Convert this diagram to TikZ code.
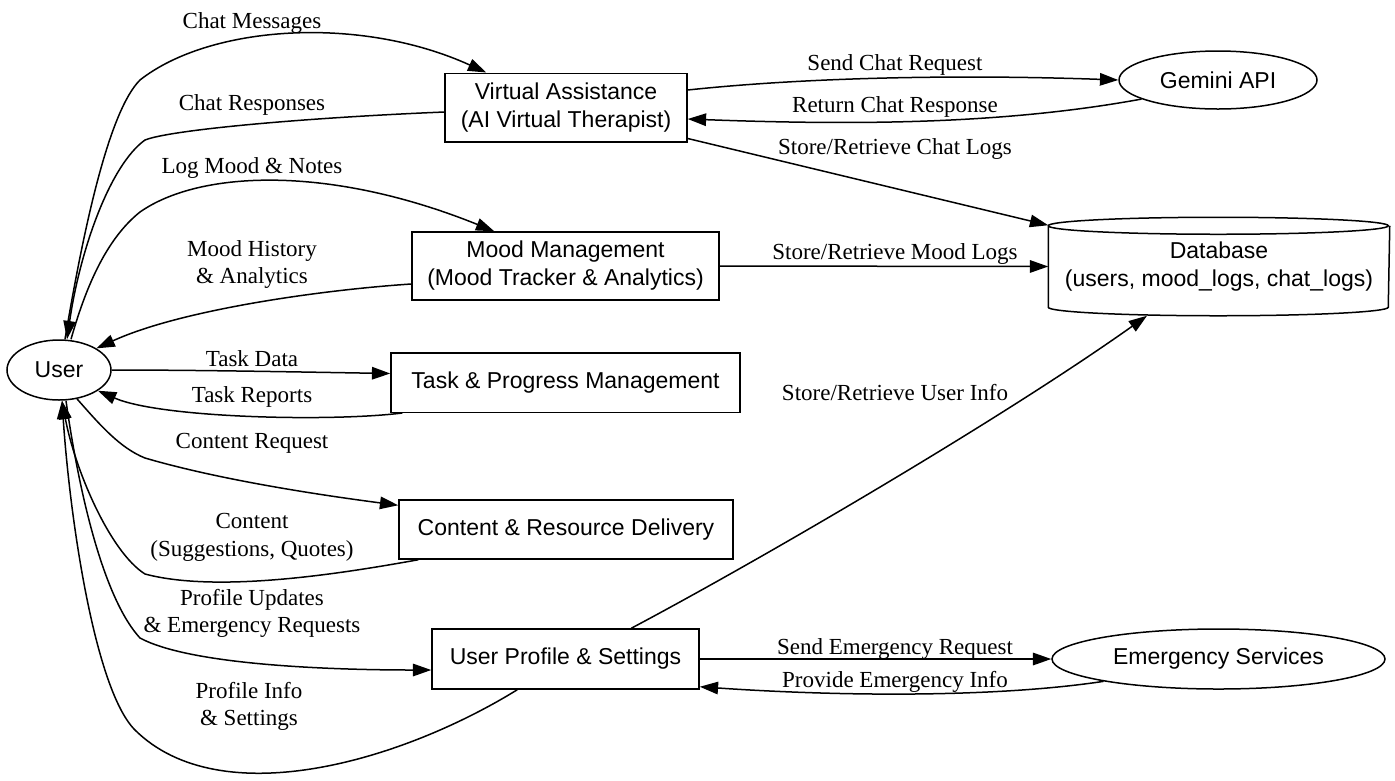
\documentclass[tikz,border=0pt]{standalone}
\usepackage{fontspec}
\setmainfont{Liberation Serif}
\newfontfamily\arialfont{Liberation Sans}
\usetikzlibrary{arrows.meta,shapes.geometric}

\tikzset{
  box/.style={draw, rectangle, line width=0.9pt, inner sep=0pt, align=center,
    font=\arialfont\fontsize{13.8}{16.8}\selectfont},
  oval/.style={box, ellipse},
  lbl/.style={align=center, inner sep=0pt, yshift=-1.5pt, font=\fontsize{13.8}{16.5}\selectfont},
  flow/.style={line width=0.9pt, -{Triangle[length=11pt,width=7.5pt]}},
}

\begin{document}
\begin{tikzpicture}[x=0.6pt,y=-0.6pt]
\useasboundingbox (0,0) rectangle (1395,780);
%结点
\node[oval, minimum width=62.4pt, minimum height=36pt] (user) at (59,370) {User};
\node[box, minimum width=145.2pt, minimum height=41.1pt] (va) at (566,107.5) {Virtual Assistance\\(AI Virtual Therapist)};
\node[oval, minimum width=118.8pt, minimum height=34.8pt] (gemini) at (1218,80) {Gemini API};
\node[box, minimum width=184.2pt, minimum height=40.8pt] (mood) at (565.5,266) {Mood Management\\(Mood Tracker \& Analytics)};
\node[box, draw=none, minimum width=204pt, minimum height=58.2pt] (db) at (1219,266.5) {Database\\(users, mood\_logs, chat\_logs)};
\node[box, minimum width=209.4pt, minimum height=35.7pt] (task) at (565.5,382.5) {Task \& Progress Management};
\node[box, minimum width=200.4pt, minimum height=35.4pt] (content) at (566,529.5) {Content \& Resource Delivery};
\node[box, minimum width=160.2pt, minimum height=36pt] (profile) at (565.5,659) {User Profile \& Settings};
\node[oval, minimum width=199.8pt, minimum height=36pt] (emerg) at (1218.5,659) {Emergency Services};
%数据库圆柱
\draw[line width=0.9pt] ([yshift=-5.1pt]db.north west)
  arc[start angle=180,end angle=360,x radius=102pt,y radius=5.1pt]
  arc[start angle=0,end angle=180,x radius=102pt,y radius=5.1pt]
  -- ([yshift=5.1pt]db.south west)
  arc[start angle=180,end angle=360,x radius=102pt,y radius=5.1pt]
  -- ([yshift=-5.1pt]db.north east);
%用户连线
\draw[flow] ([shift={(6,0)}]user.north) .. controls (85,220) and (110,110) .. (140,80)
  .. controls (210,25) and (360,15) .. ([shift={(42,0)}]va.north west);
\draw[flow] ([shift={(0,4.5)}]va.west) .. controls (300,118) and (170,130) .. (145,140)
  .. controls (110,165) and (80,250) .. ([shift={(8,0)}]user.north);
\draw[flow] ([shift={(12,0)}]user.north) .. controls (85,290) and (105,240) .. (140,212)
  .. controls (200,170) and (330,165) .. ([shift={(83,0)}]mood.north west);
\draw[flow] ([shift={(0,18)}]mood.west) .. controls (320,290) and (180,310) .. (user.30);
\draw[flow] (user.east) .. controls (200,370) and (300,372) .. ([shift={(0,-9)}]task.west);
\draw[flow] ([shift={(12,0)}]task.south west) .. controls (330,422) and (160,418) .. (user.-28);
\draw[flow] (user.-58) .. controls (100,425) and (120,448) .. (145,458)
  .. controls (220,480) and (320,495) .. ([shift={(0,6)}]content.north west);
\draw[flow] ([shift={(20,0)}]content.south west) .. controls (350,572) and (220,594) .. (145,574)
  .. controls (110,552) and (75,470) .. ([shift={(3,0)}]user.south);
\draw[flow] ([shift={(7,0)}]user.south) .. controls (80,500) and (105,600) .. (140,638)
  .. controls (190,665) and (330,670) .. ([shift={(0,11)}]profile.west);
\draw[flow] ([shift={(86,0)}]profile.south west) .. controls (400,762) and (220,814) .. (135,730)
  .. controls (95,690) and (70,520) .. ([shift={(3,0)}]user.south);
%右侧连线
\draw[flow] ([shift={(0,-17.5)}]va.east) .. controls (800,78) and (950,74) .. (gemini.west);
\draw[flow] (gemini.194) .. controls (1000,125) and (850,125) .. ([shift={(0,11.5)}]va.east);
\draw[flow] ([shift={(0,-4)}]va.south east) -- ([shift={(0,8)}]db.north west);
\draw[flow] (mood.east) -- (db.west);
\draw[flow] ([shift={(200,0)}]profile.north west) .. controls (760,560) and (1000,420) .. ([shift={(-72,0)}]db.south);
\draw[flow] (profile.east) -- (emerg.west);
\draw[flow] (emerg.191.5) .. controls (1000,697) and (850,697) .. ([shift={(0,-3)}]profile.south east);
%文字
\node[lbl] (lChatMsg) at (252,20) {Chat Messages};
\node[lbl] (lChatRes) at (252,102) {Chat Responses};
\node[lbl] (lLogMood) at (252,165) {Log Mood \& Notes};
\node[lbl] (lMoodHist) at (252,262) {Mood History\\\& Analytics};
\node[lbl] (lTaskData) at (252,356) {Task Data};
\node[lbl] (lTaskRep) at (252,394) {Task Reports};
\node[lbl] (lContReq) at (252,441) {Content Request};
\node[lbl] (lCont) at (252,535) {Content\\(Suggestions, Quotes)};
\node[lbl] (lProfUpd) at (252,611) {Profile Updates\\\& Emergency Requests};
\node[lbl] (lProfInfo) at (249,704) {Profile Info\\\& Settings};
\node[lbl] (lSendChat) at (895,62) {Send Chat Request};
\node[lbl] (lRetChat) at (895,104) {Return Chat Response};
\node[lbl] (lChatLogs) at (895,146) {Store/Retrieve Chat Logs};
\node[lbl] (lMoodLogs) at (895,251) {Store/Retrieve Mood Logs};
\node[lbl] (lUserInfo) at (895,390) {Store/Retrieve User Info};
\node[lbl] (lSendEm) at (895,646) {Send Emergency Request};
\node[lbl] (lProvEm) at (895,679) {Provide Emergency Info};
\end{tikzpicture}
\end{document}
